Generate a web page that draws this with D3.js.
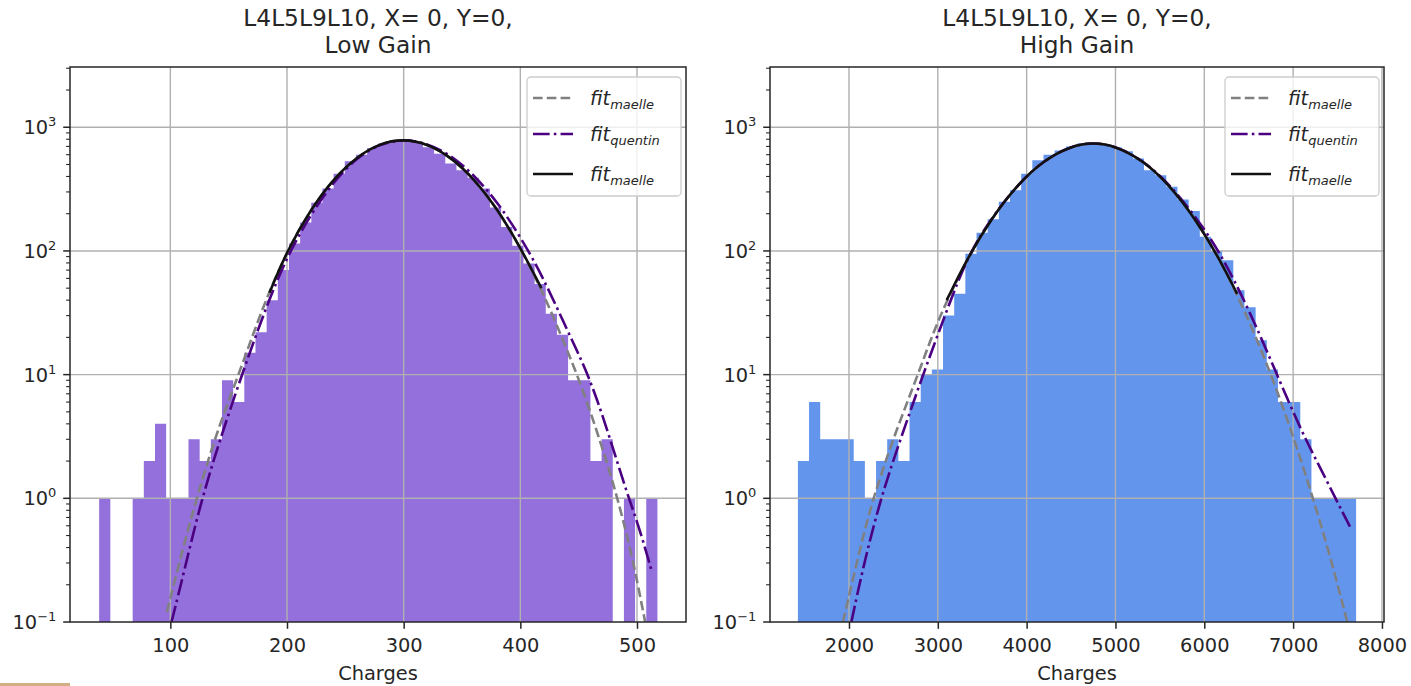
<!DOCTYPE html>
<html>
<head>
<meta charset="utf-8">
<script src="https://cdn.jsdelivr.net/npm/d3@7"></script>
<style>
  body { margin: 0; background: #fff; }
  text { font-family: "DejaVu Sans", sans-serif; fill: #262626; }
</style>
</head>
<body>
<svg id="chart" width="1411" height="686"></svg>
<script>
// ---- data ----
const titleLine1 = "L4L5L9L10, X= 0, Y=0,";
const xLabel = "Charges";

// Low gain histogram: 50 bins between these edges
const lowGainRange = [39, 517.5];
const lowGainCounts = [
  1, 0, 0, 1, 2, 4, 1, 1, 3, 2,
  3, 9, 6, 15, 22, 40, 70, 115, 170, 245,
  320, 420, 530, 600, 680, 740, 790, 800, 760, 690,
  610, 510, 450, 390, 320, 225, 156, 110, 79, 54,
  31, 21, 9, 9, 2, 3, 0, 1, 0, 1
];
const lowGainTicks = [100, 200, 300, 400, 500];

// High gain histogram
const highGainRange = [1425, 7709];
const highGainCounts = [
  2, 6, 3, 3, 3, 2, 1, 2, 3, 2,
  6, 10, 11, 30, 45, 95, 140, 180, 250, 310,
  420, 540, 600, 650, 700, 740, 750, 730, 690, 640,
  560, 450, 410, 330, 260, 210, 130, 100, 84, 48,
  35, 19, 11, 6, 6, 3, 1, 1, 1, 1
];
const highGainTicks = [2000, 3000, 4000, 5000, 6000, 7000, 8000];

// fit curves (charge, count)
const lowMaelleX = [97, 110, 123, 140, 161, 180, 200, 220, 240, 260, 280, 300, 320, 340, 360, 380, 400, 420, 440, 455, 470, 480, 495, 507];
const lowMaelleY = [0.12, 0.37, 1.04, 3.5, 11.5, 37, 100, 215, 385, 580, 745, 804, 738, 578, 386, 221, 107, 45, 16, 7, 2.6, 1.3, 0.38, 0.1];
const lowQuentinX = [101, 112, 125, 142, 163.6, 182, 200, 220, 240, 260, 280, 300, 320, 340, 360, 380, 400, 420, 440, 458.5, 475, 490, 502, 513];
const lowQuentinY = [0.1, 0.26, 0.85, 2.9, 11.5, 35, 90, 195, 365, 570, 740, 800, 745, 598, 415, 251, 131, 60, 23, 10, 3.5, 1.2, 0.58, 0.25];
const lowMaelleCoreX = [185, 200, 220, 240, 260, 280, 300, 320, 340, 360, 380, 400, 418];
const lowMaelleCoreY = [46, 100, 215, 385, 580, 745, 804, 738, 578, 386, 221, 107, 50];

const highMaelleX = [1932, 2100, 2250, 2500, 2800, 3000, 3340, 3600, 3900, 4200, 4500, 4750, 5000, 5300, 5600, 5900, 6160, 6450, 6760, 7000, 7190, 7400, 7610];
const highMaelleY = [0.1, 0.33, 0.9, 3.1, 11, 28, 89, 182, 347, 546, 706, 755, 706, 546, 347, 182, 89, 34, 9.8, 3.2, 1.2, 0.38, 0.1];
const highQuentinX = [2027, 2150, 2354, 2600, 2834, 3100, 3340, 3600, 3900, 4200, 4500, 4750, 5000, 5300, 5600, 5900, 6170, 6500, 6818, 7100, 7300, 7476, 7645];
const highQuentinY = [0.1, 0.26, 1, 3.3, 10, 33, 92, 183, 347, 546, 706, 755, 706, 548, 352, 190, 100, 34, 10, 3.4, 1.8, 1, 0.58];
const highMaelleCoreX = [3100, 3340, 3600, 3900, 4200, 4500, 4750, 5000, 5300, 5600, 5900, 6160, 6370];
const highMaelleCoreY = [40, 89, 182, 347, 546, 706, 755, 706, 546, 347, 182, 89, 45];

const yTicks = [0.1, 1, 10, 100, 1000];
const yExponents = ["\u22121", "0", "1", "2", "3"];
const legendNames = ["maelle", "quentin", "maelle"];

// ---- layout ----
const svg = d3.select("#chart");
const plotTop = 67, plotBottom = 622;
const y = d3.scaleLog().domain([0.1, 3070]).range([plotBottom, plotTop]);
const fs = 19.4;          // 10pt at the figure's dpi
const lw = 2.6;           // fit line width

const panels = [
  { id: "low", left: 70, right: 686, domain: [14, 542], range: lowGainRange, counts: lowGainCounts,
    ticks: lowGainTicks, color: "#9370db", title2: "Low Gain",
    maelle: [lowMaelleX, lowMaelleY], quentin: [lowQuentinX, lowQuentinY], core: [lowMaelleCoreX, lowMaelleCoreY] },
  { id: "high", left: 770, right: 1384, domain: [1111, 8023], range: highGainRange, counts: highGainCounts,
    ticks: highGainTicks, color: "#6495ed", title2: "High Gain",
    maelle: [highMaelleX, highMaelleY], quentin: [highQuentinX, highQuentinY], core: [highMaelleCoreX, highMaelleCoreY] }
];

const lineStyles = [
  { stroke: "#808080", dash: `${ 3.7 * lw },${ 1.6 * lw }` },
  { stroke: "#4b0082", dash: `${ 6.4 * lw },${ 1.6 * lw },${ 1 * lw },${ 1.6 * lw }` },
  { stroke: "#111111", dash: null }
];

const defs = svg.append("defs");

panels.forEach(p =>
{
  const x = d3.scaleLinear().domain(p.domain).range([p.left, p.right]);
  const g = svg.append("g");

  defs.append("clipPath").attr("id", "clip-" + p.id)
    .append("rect").attr("x", p.left).attr("y", plotTop)
    .attr("width", p.right - p.left).attr("height", plotBottom - plotTop);

  // histogram drawn as one step outline so no seams appear between bins
  const n = p.counts.length;
  const w = (p.range[1] - p.range[0]) / n;
  const steps = p.counts.map((c, i) => [p.range[0] + i * w, c]);
  steps.push([p.range[1], p.counts[n - 1]]);
  const area = d3.area()
    .x(d => x(d[0]))
    .y0(plotBottom + 5)
    .y1(d => d[1] > 0 ? y(d[1]) : plotBottom + 5)
    .curve(d3.curveStepAfter);
  g.append("path").attr("clip-path", `url(#clip-${ p.id })`)
    .attr("d", area(steps)).attr("fill", p.color);

  // grid (over bars, under lines)
  const grid = g.append("g").attr("stroke", "#b0b0b0").attr("stroke-width", 1.4);
  p.ticks.filter(t => t >= p.domain[0] && t <= p.domain[1]).forEach(t =>
  {
    grid.append("line").attr("x1", x(t)).attr("x2", x(t)).attr("y1", plotTop).attr("y2", plotBottom);
  });
  yTicks.slice(1).forEach(t =>
  {
    grid.append("line").attr("x1", p.left).attr("x2", p.right).attr("y1", y(t)).attr("y2", y(t));
  });

  // fit lines
  const line = d3.line().x(d => x(d[0])).y(d => y(d[1])).curve(d3.curveBasis);
  const pts = arr => arr[0].map((v, i) => [v, arr[1][i]]);
  const lines = g.append("g").attr("clip-path", `url(#clip-${ p.id })`).attr("fill", "none");
  [p.maelle, p.quentin, p.core].forEach((s, i) =>
  {
    lines.append("path").attr("d", line(pts(s)))
      .attr("stroke", lineStyles[i].stroke).attr("stroke-width", lw)
      .attr("stroke-dasharray", lineStyles[i].dash);
  });

  // x axis
  const xAxis = g.append("g").attr("transform", `translate(0,${ plotBottom })`)
    .call(d3.axisBottom(x).tickValues(p.ticks).tickSize(6.8).tickPadding(9).tickFormat(d3.format("d")));
  xAxis.select(".domain").remove();
  xAxis.selectAll("line").attr("stroke", "#262626").attr("stroke-width", 1.5);
  xAxis.selectAll("text").style("font-size", fs + "px").attr("fill", "#262626").attr("font-family", null);

  // y axis with minor ticks
  const minor = [];
  for (let e = -1; e <= 3; e++)
    for (let k = 2; k <= 9; k++)
    {
      const v = k * Math.pow(10, e);
      if (v < y.domain()[1]) minor.push(v);
    }
  const yg = g.append("g");
  yg.selectAll("line.minor").data(minor).enter().append("line")
    .attr("x1", p.left - 3.9).attr("x2", p.left).attr("y1", d => y(d)).attr("y2", d => y(d))
    .attr("stroke", "#262626").attr("stroke-width", 1.1);
  yg.selectAll("line.major").data(yTicks).enter().append("line")
    .attr("x1", p.left - 6.8).attr("x2", p.left).attr("y1", d => y(d)).attr("y2", d => y(d))
    .attr("stroke", "#262626").attr("stroke-width", 1.5);
  const yl = yg.selectAll("text").data(yTicks).enter().append("text")
    .attr("x", p.left - 13.6).attr("y", d => y(d) + 7)
    .attr("text-anchor", "end").style("font-size", fs + "px");
  yl.append("tspan").text("10");
  yl.append("tspan").attr("dy", -8).style("font-size", "13px").text((d, i) => yExponents[i]);

  // frame
  g.append("rect").attr("x", p.left).attr("y", plotTop)
    .attr("width", p.right - p.left).attr("height", plotBottom - plotTop)
    .attr("fill", "none").attr("stroke", "#262626").attr("stroke-width", 1.5);

  // titles
  const cx = (p.left + p.right) / 2;
  g.append("text").attr("x", cx).attr("y", 26).attr("text-anchor", "middle")
    .style("font-size", "23.3px").text(titleLine1);
  g.append("text").attr("x", cx).attr("y", 53).attr("text-anchor", "middle")
    .style("font-size", "23.3px").text(p.title2);
  g.append("text").attr("x", cx).attr("y", 680).attr("text-anchor", "middle")
    .style("font-size", fs + "px").text(xLabel);

  // legend
  const lx = p.right - 159, ly = 77;
  const lg = g.append("g");
  lg.append("rect").attr("x", lx).attr("y", ly).attr("width", 154).attr("height", 119).attr("rx", 4)
    .attr("fill", "#fff").attr("fill-opacity", 0.8).attr("stroke", "#cccccc").attr("stroke-width", 1.3);
  const rows = [21, 57, 97];
  rows.forEach((ry, i) =>
  {
    lg.append("line").attr("x1", lx + 6).attr("x2", lx + 46)
      .attr("y1", ly + ry).attr("y2", ly + ry)
      .attr("stroke", lineStyles[i].stroke).attr("stroke-width", lw)
      .attr("stroke-dasharray", lineStyles[i].dash);
    const t = lg.append("text").attr("x", lx + 63).attr("y", ly + ry + 7)
      .style("font-size", fs + "px").style("font-style", "italic");
    t.append("tspan").text("fit");
    t.append("tspan").attr("dy", 4).style("font-size", "13px").text(legendNames[i]);
  });
});

// small strip at the bottom-left corner of the picture
svg.append("rect").attr("x", 0).attr("y", 683).attr("width", 70).attr("height", 3).attr("fill", "#d2ae86");
</script>
</body>
</html>
